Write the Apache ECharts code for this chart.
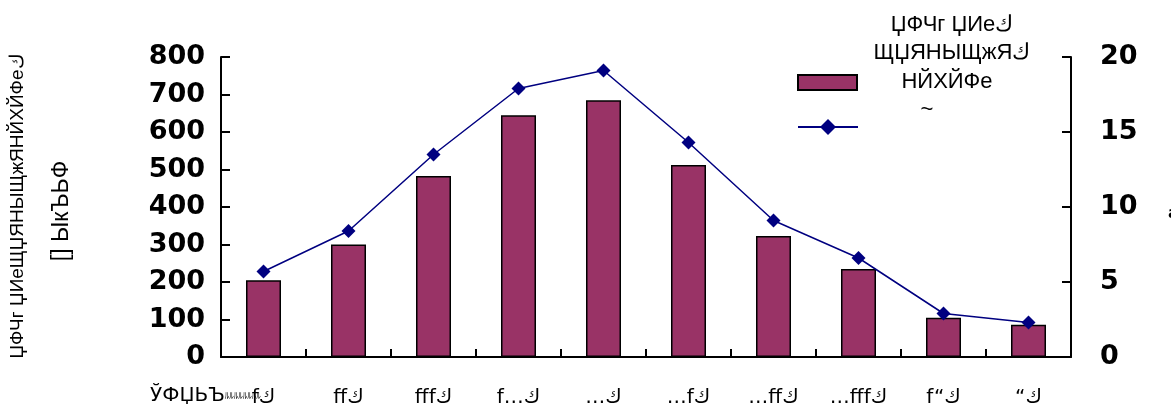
<!DOCTYPE html>
<html>
<head>
<meta charset="utf-8">
<script src="https://cdn.jsdelivr.net/npm/echarts@6/dist/echarts.min.js"></script>
<style>
  html, body { margin: 0; padding: 0; background: #fff; }
  #chart { width: 1171px; height: 414px; }
</style>
</head>
<body>
<div id="chart"></div>
<script>
// Categories along the x axis
const categories = ['fك', 'ffك', 'fffك', 'f…ك', '…ك', '…fك', '…ffك', '…fffك', 'f“ك', '“ك'];
// Bar series (left axis)
const barValues = [205, 300, 483, 645, 685, 512, 323, 235, 105, 86];
// Line series (right axis)
const lineValues = [5.7, 8.4, 13.5, 17.9, 19.1, 14.3, 9.1, 6.6, 2.9, 2.3];
// Axis ranges: [min, max, interval]
const leftRange = [0, 800, 100];
const rightRange = [0, 20, 5];
// Series names and titles
const barNameLines = ['ЏФЧг ЏИеك', 'ЩЏЯНЫЩжЯك', 'НЙХЙФе'];
const lineName = '~';
const leftTitleLines = ['ЏФЧг ЏИеЩЏЯНЫЩжЯНЙХЙФеك', '[] ЫкЪЬФ'];
const xTitle = 'ЎФЏЬЪ';
const xTitleTail = 'ﾙﾙﾙﾙﾙﾙﾙﾙ';
const rightTitle = 'a';

const barName = barNameLines.join(' ');
const chart = echarts.init(document.getElementById('chart'), null, { renderer: 'canvas' });

const tickFont = { fontFamily: 'DejaVu Sans', fontWeight: 'bold', fontSize: 27, color: '#000' };
const textFont = 'DejaVu Sans';
const captionFont = '"Liberation Sans", Arial, sans-serif';

function caption(text, x, y, size) {
  return {
    type: 'text', x: x, y: y,
    style: { text: text, font: size + 'px ' + captionFont, fill: '#000', align: 'center', verticalAlign: 'middle' }
  };
}

chart.setOption({
  animation: false,
  backgroundColor: '#fff',
  grid: { left: 221, right: 100, top: 57, bottom: 57, containLabel: false },
  legend: [
    {
      left: 797, top: 74, padding: 0, itemWidth: 59, itemHeight: 15,
      formatter: () => '', selectedMode: false,
      data: [{ name: barName, icon: 'rect' }]
    },
    {
      left: 797, top: 117, padding: 0, itemWidth: 60, itemHeight: 20,
      formatter: () => '', selectedMode: false,
      data: [{ name: lineName }]
    }
  ],
  xAxis: {
    type: 'category',
    data: categories,
    boundaryGap: true,
    axisLine: { show: true, lineStyle: { color: '#000', width: 2 } },
    axisTick: { show: true, inside: true, length: 8, lineStyle: { color: '#000', width: 2 } },
    axisLabel: { margin: 31, fontFamily: textFont, fontSize: 20, color: '#000', interval: 0 },
    splitLine: { show: false }
  },
  yAxis: [
    {
      type: 'value',
      min: leftRange[0], max: leftRange[1], interval: leftRange[2],
      axisLine: { show: true, lineStyle: { color: '#000', width: 2 } },
      axisTick: { show: true, inside: true, length: 9, lineStyle: { color: '#000', width: 2 } },
      axisLabel: Object.assign({ margin: 16 }, tickFont),
      splitLine: { show: false }
    },
    {
      type: 'value',
      position: 'right',
      min: rightRange[0], max: rightRange[1], interval: rightRange[2],
      axisLine: { show: true, lineStyle: { color: '#000', width: 2 } },
      axisTick: { show: true, inside: true, length: 9, lineStyle: { color: '#000', width: 2 } },
      axisLabel: Object.assign({ margin: 29 }, tickFont),
      splitLine: { show: false }
    }
  ],
  series: [
    {
      name: barName,
      type: 'bar',
      yAxisIndex: 0,
      data: barValues,
      barWidth: 35,
      itemStyle: { color: '#993366', borderColor: '#000', borderWidth: 1.5 }
    },
    {
      name: lineName,
      type: 'line',
      yAxisIndex: 1,
      data: lineValues,
      symbol: 'diamond',
      symbolSize: 14,
      lineStyle: { color: '#000080', width: 1.5 },
      itemStyle: { color: '#000080' },
      z: 3
    }
  ],
  graphic: [
    // left axis title, two rotated lines
    {
      type: 'text', x: 18, y: 206, rotation: Math.PI / 2,
      style: { text: leftTitleLines[0], font: '19px ' + captionFont, fill: '#000', align: 'center', verticalAlign: 'middle' }
    },
    {
      type: 'text', x: 62, y: 211, rotation: Math.PI / 2,
      style: { text: leftTitleLines[1], font: '23px ' + captionFont, fill: '#000', align: 'center', verticalAlign: 'middle' }
    },
    // legend captions
    caption(barNameLines[0], 952, 25, 22),
    caption(barNameLines[1], 952, 53, 22),
    caption(barNameLines[2], 947, 82, 22),
    caption(lineName, 927, 110, 22),
    // x axis title at the lower left
    {
      type: 'text', x: 150, y: 396,
      style: {
        text: '{a|' + xTitle + '}{b|' + xTitleTail + '}',
        verticalAlign: 'middle',
        rich: {
          a: { fontFamily: textFont, fontSize: 20, color: '#000' },
          b: { fontFamily: 'Noto Sans CJK JP', fontSize: 9, color: '#000' }
        }
      }
    },
    // right axis title, mostly beyond the edge
    {
      type: 'text', x: 1168, y: 214,
      style: { text: rightTitle, font: 'bold 16px "DejaVu Sans"', fill: '#000', verticalAlign: 'middle' }
    }
  ]
});
</script>
</body>
</html>
